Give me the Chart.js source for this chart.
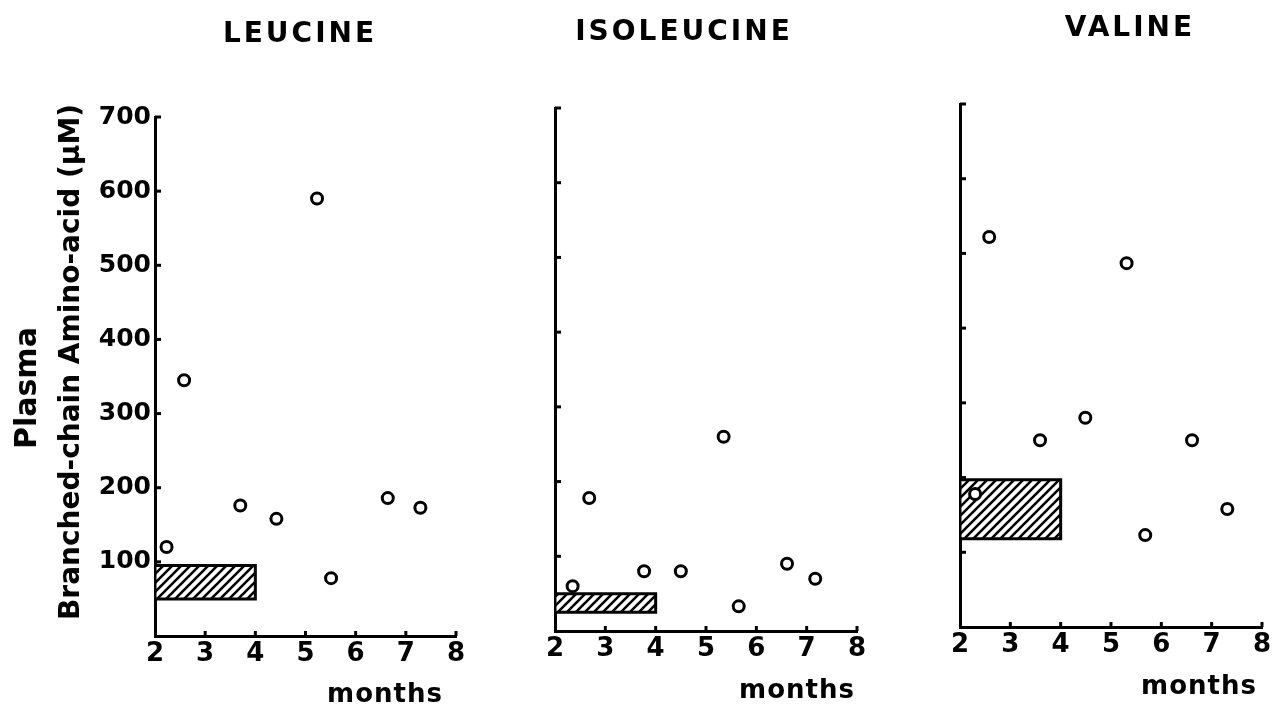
<!DOCTYPE html>
<html>
<head>
<meta charset="utf-8">
<script src="https://cdn.jsdelivr.net/npm/chart.js@4.4.1/dist/chart.umd.min.js"></script>
<style>
  body { margin: 0; background: #fff; }
  #wrap { position: relative; width: 1275px; height: 710px; overflow: hidden; font-family: "DejaVu Sans", sans-serif; color: #000; }
  canvas { position: absolute; left: 0; top: 0; }
  .txt { position: absolute; font-weight: bold; line-height: 1; white-space: nowrap; transform: translateX(-50%); }
  .rot { position: absolute; font-weight: bold; line-height: 1; white-space: nowrap; transform: translate(-50%, -50%) rotate(-90deg); }
</style>
</head>
<body>
<div id="wrap">
  <canvas id="leu" width="1275" height="710"></canvas>
  <canvas id="iso" width="1275" height="710"></canvas>
  <canvas id="val" width="1275" height="710"></canvas>

  <div class="txt" style="left:300px; top:19px; font-size:28px; letter-spacing:3px;">LEUCINE</div>
  <div class="txt" style="left:684px; top:17px; font-size:28px; letter-spacing:3px;">ISOLEUCINE</div>
  <div class="txt" style="left:1130px; top:13px; font-size:28px; letter-spacing:3px;">VALINE</div>

  <div class="txt" style="left:385px; top:680px; font-size:26px; letter-spacing:1px;">months</div>
  <div class="txt" style="left:797px; top:676px; font-size:26px; letter-spacing:1px;">months</div>
  <div class="txt" style="left:1199px; top:672px; font-size:26px; letter-spacing:1px;">months</div>

  <div class="rot" style="left:26px; top:388px; font-size:30px;">Plasma</div>
  <div class="rot" style="left:70px; top:362px; font-size:28px;">Branched-chain Amino-acid (μM)</div>
</div>

<script>
// axis ranges
const monthMin = 2;
const monthMax = 8;
const plasmaMin = 0;
const plasmaMax = 700;
const plasmaTicks = [100, 200, 300, 400, 500, 600, 700];
const monthTicks = [2, 3, 4, 5, 6, 7, 8];

// leucine
const leucineMonths = [2.23, 2.58, 3.70, 4.42, 5.23, 5.51, 6.64, 7.29];
const leucineValues = [120, 345, 176, 158, 590, 78, 186, 173];
const leucineRange = [50, 95];

// isoleucine
const isoleucineMonths = [2.35, 2.68, 3.77, 4.50, 5.35, 5.65, 6.61, 7.17];
const isoleucineValues = [60, 178, 80, 80, 260, 33, 90, 70];
const isoleucineRange = [25, 50];

// valine
const valineMonths = [2.30, 2.58, 3.59, 4.49, 5.31, 5.68, 6.61, 7.31];
const valineValues = [178, 522, 250, 280, 487, 123, 250, 158];
const valineRange = [118, 197];

// the hatched box covers months 2 to 4
const rangeMonths = [2, 4];

const hatch = (() => {
  const s = 9;
  const c = document.createElement('canvas');
  c.width = s; c.height = s;
  const g = c.getContext('2d');
  g.fillStyle = '#fff';
  g.fillRect(0, 0, s, s);
  g.strokeStyle = '#000';
  g.lineWidth = 2.6;
  g.beginPath();
  g.moveTo(0, s); g.lineTo(s, 0);
  g.moveTo(-2, 2); g.lineTo(2, -2);
  g.moveTo(s - 2, s + 2); g.lineTo(s + 2, s - 2);
  g.stroke();
  return document.createElement('canvas').getContext('2d').createPattern(c, 'repeat');
})();

const innerTicks = {
  id: 'innerTicks',
  afterDraw(chart) {
    const ctx = chart.ctx;
    const x = chart.scales.x;
    const y = chart.scales.y;
    const area = chart.chartArea;
    ctx.save();
    ctx.strokeStyle = '#000';
    ctx.lineWidth = 3;
    plasmaTicks.forEach(v => {
      const py = y.getPixelForValue(v);
      ctx.beginPath();
      ctx.moveTo(area.left, py);
      ctx.lineTo(area.left + 6, py);
      ctx.stroke();
    });
    monthTicks.slice(1).forEach(v => {
      const px = x.getPixelForValue(v);
      ctx.beginPath();
      ctx.moveTo(px, area.bottom);
      ctx.lineTo(px, area.bottom - 5);
      ctx.stroke();
    });
    ctx.restore();
  }
};

function boxPoints(range) {
  return [
    { x: rangeMonths[0], y: range[0] },
    { x: rangeMonths[0], y: range[1] },
    { x: rangeMonths[1], y: range[1] },
    { x: rangeMonths[1], y: range[0] },
    { x: rangeMonths[0], y: range[0] }
  ];
}

function makePanel(id, months, values, range, box, showLabels) {
  const ctx = document.getElementById(id).getContext('2d');
  return new Chart(ctx, {
    type: 'scatter',
    data: {
      datasets: [
        {
          type: 'line',
          order: 2,
          data: boxPoints(range),
          borderColor: '#000',
          borderWidth: 3,
          backgroundColor: hatch,
          fill: 'shape',
          tension: 0,
          pointRadius: 0
        },
        {
          order: 1,
          data: months.map((m, i) => ({ x: m, y: values[i] })),
          pointStyle: 'circle',
          pointRadius: 5.5,
          borderWidth: 3,
          borderColor: '#000',
          backgroundColor: '#fff'
        }
      ]
    },
    options: {
      responsive: false,
      animation: false,
      events: [],
      layout: { padding: { left: showLabels ? 0 : box.left, top: box.top, right: 1275 - box.right, bottom: 0 } },
      plugins: { legend: { display: false }, tooltip: { enabled: false } },
      scales: {
        x: {
          type: 'linear',
          min: monthMin,
          max: monthMax,
          afterFit: s => { s.height = 710 - box.bottom; },
          afterBuildTicks: s => { s.ticks = monthTicks.map(v => ({ value: v })); },
          grid: { drawOnChartArea: false, drawTicks: false },
          border: { color: '#000', width: 3 },
          ticks: {
            color: '#000',
            padding: 3,
            maxRotation: 0,
            font: { family: 'DejaVu Sans', size: 26, weight: 'bold' }
          }
        },
        y: {
          min: plasmaMin,
          max: plasmaMax,
          afterFit: s => { s.width = showLabels ? box.left : 0; },
          afterBuildTicks: s => { s.ticks = plasmaTicks.map(v => ({ value: v })); },
          grid: { drawOnChartArea: false, drawTicks: false },
          border: { color: '#000', width: 3 },
          ticks: {
            display: showLabels,
            color: '#000',
            padding: 4,
            font: { family: 'DejaVu Sans', size: 25, weight: 'bold' }
          }
        }
      }
    },
    plugins: [innerTicks]
  });
}

makePanel('leu', leucineMonths, leucineValues, leucineRange,
  { left: 155, right: 456, top: 117, bottom: 636 }, true);
makePanel('iso', isoleucineMonths, isoleucineValues, isoleucineRange,
  { left: 555, right: 857, top: 108, bottom: 631 }, false);
makePanel('val', valineMonths, valineValues, valineRange,
  { left: 960, right: 1262, top: 104, bottom: 627 }, false);
</script>
</body>
</html>
